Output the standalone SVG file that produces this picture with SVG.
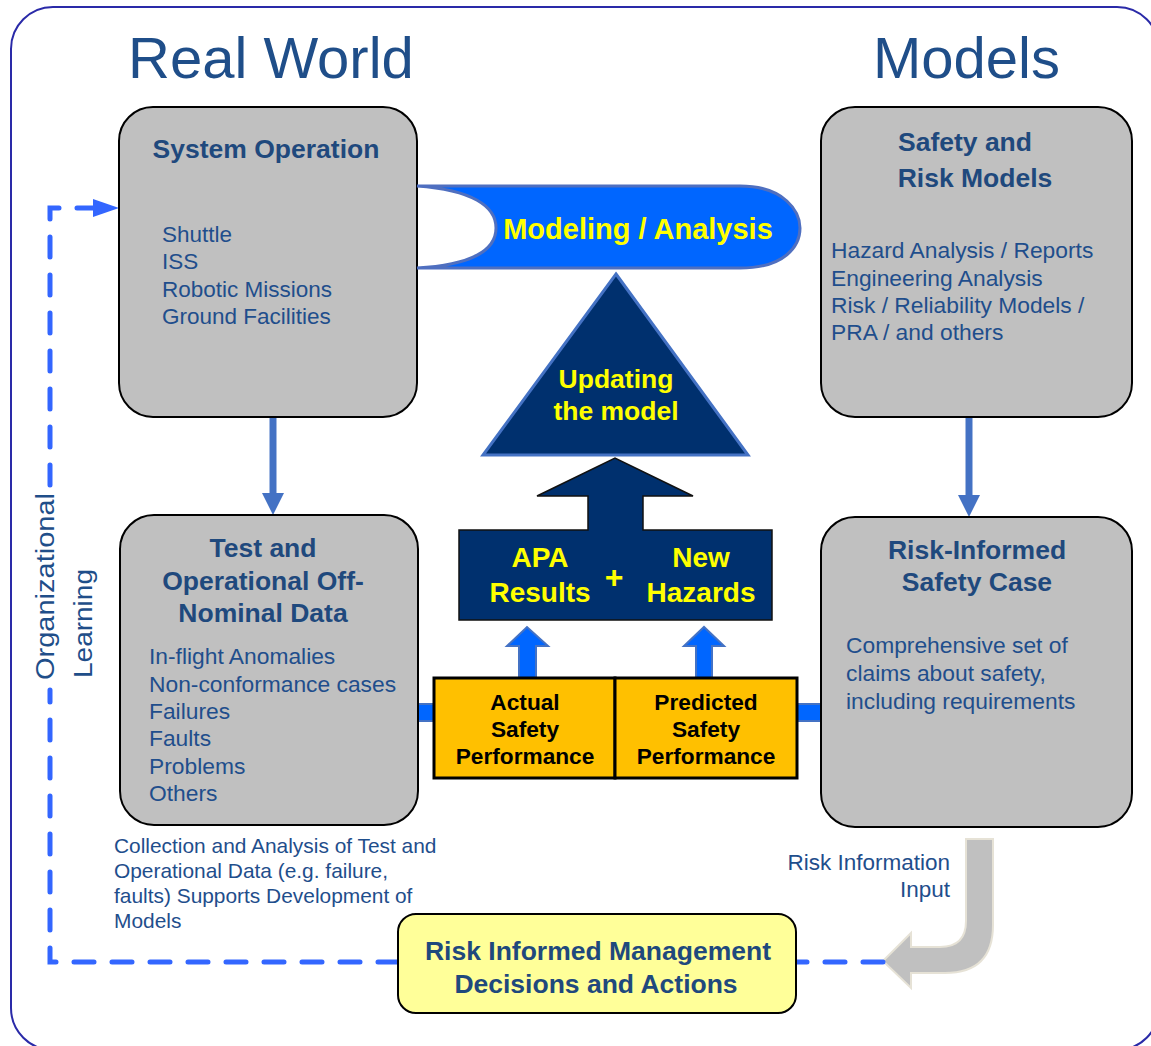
<svg xmlns="http://www.w3.org/2000/svg" width="1151" height="1046" viewBox="0 0 1151 1046">
<style>
text{font-family:"Liberation Sans",Arial,sans-serif;}
.box{fill:#c0c0c0;stroke:#000;stroke-width:2;}
.t{font-weight:bold;font-size:26.5px;fill:#1f497d;text-anchor:middle;}
.i{fill:#1f4e8c;}
.y{fill:#ffff00;font-weight:bold;text-anchor:middle;}
.p{font-weight:bold;font-size:22.7px;fill:#000;text-anchor:middle;}
.dash{fill:none;stroke:#3366ff;stroke-width:5;stroke-dasharray:20 18;stroke-linecap:round;}
</style>
<rect x="11" y="7" width="1148" height="1043" rx="42" fill="#fff" stroke="#2a2aa8" stroke-width="2"/>
<text x="128" y="78" font-size="58" fill="#1f4e89">Real World</text>
<text x="873" y="78" font-size="58" fill="#1f4e89">Models</text>

<g id="connectors">
  <line x1="273" y1="417" x2="273" y2="494" stroke="#4472c4" stroke-width="7"/>
  <polygon points="262,493 284,493 273,515" fill="#4472c4"/>
  <line x1="969" y1="417" x2="969" y2="496" stroke="#4472c4" stroke-width="7"/>
  <polygon points="958,495 980,495 969,517" fill="#4472c4"/>
  <rect x="418" y="704" width="16" height="17" fill="#0066ff" stroke="#4472c4" stroke-width="2"/>
  <rect x="797" y="704" width="24" height="17" fill="#0066ff" stroke="#4472c4" stroke-width="2"/>
  <polygon points="519,678 519,646 507,646 527,627 548,646 536,646 536,678" fill="#0066ff" stroke="#4472c4" stroke-width="2"/>
  <polygon points="696,678 696,646 684,646 704,627 724,646 712,646 712,678" fill="#0066ff" stroke="#4472c4" stroke-width="2"/>
  <path d="M966,839 L993,839 L993,925 Q993,973 945,973 L911,973 L911,988 L883,961 L911,933 L911,947 L940,947 Q966,947 966,921 Z" fill="#c0c0c0" stroke="#e6e2d6" stroke-width="2"/>
  <line class="dash" x1="883" y1="962" x2="797" y2="962"/>
  <path class="dash" d="M398,962 L50,962 L50,690"/>
  <path class="dash" d="M50,485 L50,208 L95,208"/>
  <polygon points="93,199 119,208 93,217" fill="#3366ff"/>
</g>

<g id="org-learning">
  <text transform="translate(54,680) rotate(-90)" font-size="26" fill="#1f4e89" textLength="187" lengthAdjust="spacingAndGlyphs">Organizational</text>
  <text transform="translate(92,678) rotate(-90)" font-size="26" fill="#1f4e89" textLength="109" lengthAdjust="spacingAndGlyphs">Learning</text>
</g>

<g id="system-operation">
  <rect class="box" x="119" y="107" width="298" height="310" rx="34"/>
  <text class="t" x="266" y="158">System Operation</text>
  <text class="i" font-size="22.5"><tspan x="162" y="242">Shuttle</tspan><tspan x="162" y="269">ISS</tspan><tspan x="162" y="297">Robotic Missions</tspan><tspan x="162" y="324">Ground Facilities</tspan></text>
</g>

<g id="safety-risk-models">
  <rect class="box" x="821" y="107" width="311" height="310" rx="34"/>
  <text class="t" x="965" y="151">Safety and</text>
  <text class="t" x="975" y="187">Risk Models</text>
  <text class="i" font-size="22.8"><tspan x="831" y="258">Hazard Analysis / Reports</tspan><tspan x="831" y="286">Engineering Analysis</tspan><tspan x="831" y="313">Risk / Reliability Models /</tspan><tspan x="831" y="340">PRA / and others</tspan></text>
</g>

<g id="test-data">
  <rect class="box" x="120" y="515" width="298" height="310" rx="34"/>
  <text class="t" x="263" y="557">Test and</text>
  <text class="t" x="263" y="590">Operational Off-</text>
  <text class="t" x="263" y="622">Nominal Data</text>
  <text class="i" font-size="22.8"><tspan x="149" y="664">In-flight Anomalies</tspan><tspan x="149" y="692">Non-conformance cases</tspan><tspan x="149" y="719">Failures</tspan><tspan x="149" y="746">Faults</tspan><tspan x="149" y="774">Problems</tspan><tspan x="149" y="801">Others</tspan></text>
</g>

<g id="safety-case">
  <rect class="box" x="821" y="517" width="311" height="310" rx="34"/>
  <text class="t" x="977" y="559">Risk-Informed</text>
  <text class="t" x="977" y="591">Safety Case</text>
  <text class="i" font-size="22.8"><tspan x="846" y="653">Comprehensive set of</tspan><tspan x="846" y="681">claims about safety,</tspan><tspan x="846" y="709">including requirements</tspan></text>
</g>

<g id="modeling-analysis">
  <path d="M417,186 L740,186 C785,186 800,212 800,228 C800,246 785,268 740,268 L417,268 C472,265 496,250 496,228 C496,206 472,190 417,186 Z" fill="#0066ff" stroke="#4f6fc0" stroke-width="3"/>
  <text class="y" x="638" y="239" font-size="29">Modeling / Analysis</text>
</g>

<g id="updating-model">
  <polygon points="616,274 748,455 483,455" fill="#00306e" stroke="#4472c4" stroke-width="3"/>
  <text class="y" x="616" y="388" font-size="26.5">Updating</text>
  <text class="y" x="616" y="420" font-size="26.5">the model</text>
</g>

<g id="apa-new-hazards">
  <path d="M459,530 L588,530 L588,496 L537,496 L615,458 L693,496 L643,496 L643,530 L772,530 L772,620 L459,620 Z" fill="#00306e" stroke="#111" stroke-width="1.5"/>
  <text class="y" x="540" y="567" font-size="28">APA</text>
  <text class="y" x="540" y="602" font-size="28">Results</text>
  <text class="y" x="614" y="588" font-size="32">+</text>
  <text class="y" x="701" y="567" font-size="28">New</text>
  <text class="y" x="701" y="602" font-size="28">Hazards</text>
</g>

<g id="actual-safety">
  <rect x="434" y="678" width="181" height="100" fill="#ffc000" stroke="#000" stroke-width="3"/>
  <text class="p" x="525" y="710">Actual</text>
  <text class="p" x="525" y="737">Safety</text>
  <text class="p" x="525" y="764">Performance</text>
</g>
<g id="predicted-safety">
  <rect x="615" y="678" width="182" height="100" fill="#ffc000" stroke="#000" stroke-width="3"/>
  <text class="p" x="706" y="710">Predicted</text>
  <text class="p" x="706" y="737">Safety</text>
  <text class="p" x="706" y="764">Performance</text>
</g>

<g id="collection-note">
  <text class="i" font-size="20.9"><tspan x="114" y="853">Collection and Analysis of Test and</tspan><tspan x="114" y="878">Operational Data (e.g. failure,</tspan><tspan x="114" y="903">faults) Supports Development of</tspan><tspan x="114" y="928">Models</tspan></text>
</g>

<g id="risk-info-input">
  <text class="i" font-size="22.5" text-anchor="end"><tspan x="950" y="870">Risk Information</tspan><tspan x="950" y="897">Input</tspan></text>
</g>

<g id="management">
  <rect x="398" y="914" width="398" height="99" rx="18" fill="#ffff99" stroke="#000" stroke-width="2"/>
  <text class="t" x="598" y="960" font-size="26.3">Risk Informed Management</text>
  <text class="t" x="596" y="993" font-size="26.3">Decisions and Actions</text>
</g>
</svg>
